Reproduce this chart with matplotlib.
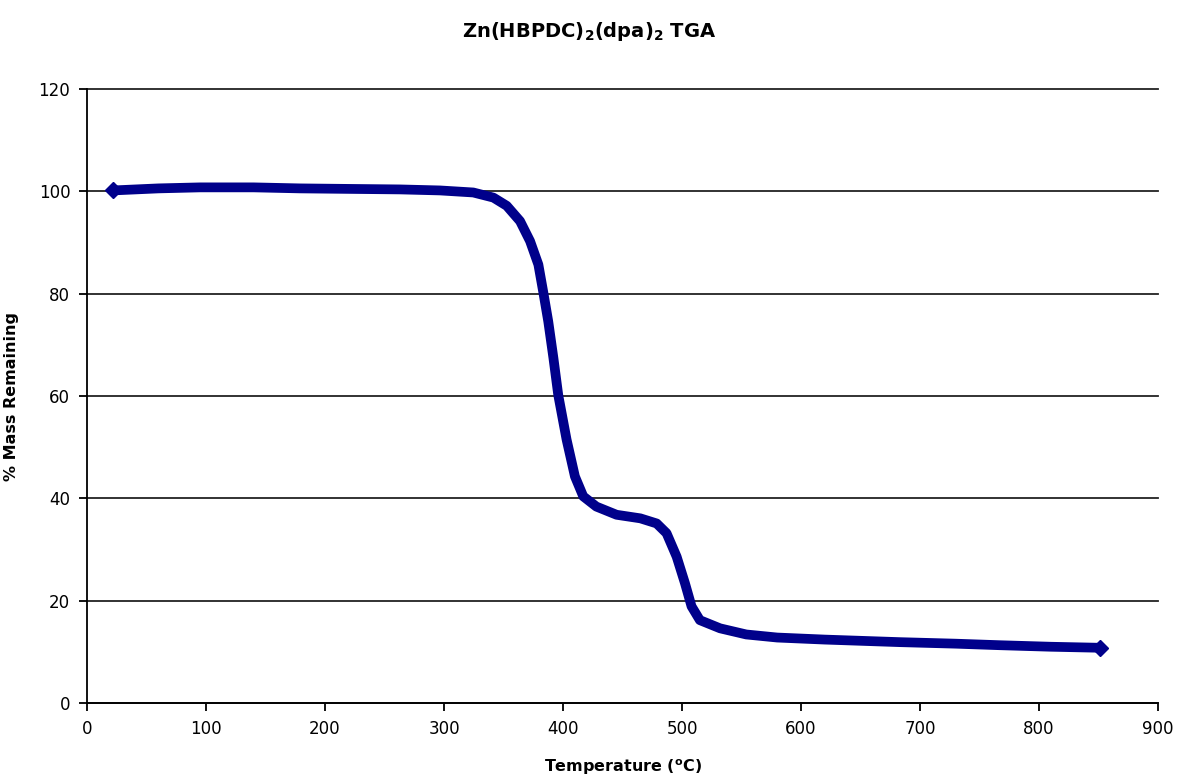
import numpy as np
import matplotlib
matplotlib.use('Agg')
import matplotlib.pyplot as plt

# TGA trace
temp_c = [21.8, 60, 95, 140, 179, 220, 263, 296.6, 324.6, 341.5, 352.7, 363.9,
          372.3, 379.3, 383.5, 387.6, 391.9, 396, 403, 410, 417, 428, 445,
          465, 478.7, 487, 495.5, 502.5, 508, 515, 532, 554, 580, 620, 683,
          730, 767, 810, 851]
mass_pct = [100.2, 100.6, 100.8, 100.8, 100.6, 100.5, 100.4, 100.2, 99.8, 98.8,
            97.2, 94.2, 90.3, 85.7, 80.2, 74.6, 67.5, 60.2, 51.5, 44.3, 40.4,
            38.4, 36.8, 36.1, 35.1, 33.2, 28.6, 23.4, 18.9, 16.2, 14.6, 13.4,
            12.8, 12.4, 11.9, 11.6, 11.3, 11.0, 10.8]

x_ticks = [0, 100, 200, 300, 400, 500, 600, 700, 800, 900]
y_ticks = [0, 20, 40, 60, 80, 100, 120]

fig = plt.figure(figsize=(11.79, 7.82), dpi=100)
ax = fig.add_axes([0.0738, 0.101, 0.9084, 0.785])

ax.plot(temp_c, mass_pct, color='#00008B', lw=7, solid_capstyle='round',
        solid_joinstyle='round', zorder=3)
ax.plot([temp_c[0], temp_c[-1]], [mass_pct[0], mass_pct[-1]], 'D',
        color='#00008B', ms=8, zorder=3)

ax.set_xlim(0, 900)
ax.set_ylim(0, 120)
ax.set_xticks(x_ticks)
ax.set_yticks(y_ticks)
ax.yaxis.grid(True, color='#222222', lw=1.3)
for gl in ax.get_ygridlines():
    gl.set_clip_on(False)
ax.set_axisbelow(True)
for s in ['top', 'right']:
    ax.spines[s].set_visible(False)
for s in ['left', 'bottom']:
    ax.spines[s].set_linewidth(1.3)
ax.tick_params(direction='out', length=6, width=1.3, labelsize=12, pad=6)

ax.set_xlabel(r'Temperature ($\mathbf{^o}$C)', fontsize=11.5, fontweight='bold',
              labelpad=14)
ax.set_ylabel('% Mass Remaining', fontsize=11.5, fontweight='bold', labelpad=14)
fig.suptitle(r'Zn(HBPDC)$\mathbf{_2}$(dpa)$\mathbf{_2}$ TGA', fontsize=14,
             fontweight='bold', y=0.975)

fig.savefig('out.png', dpi=100, facecolor='white')
